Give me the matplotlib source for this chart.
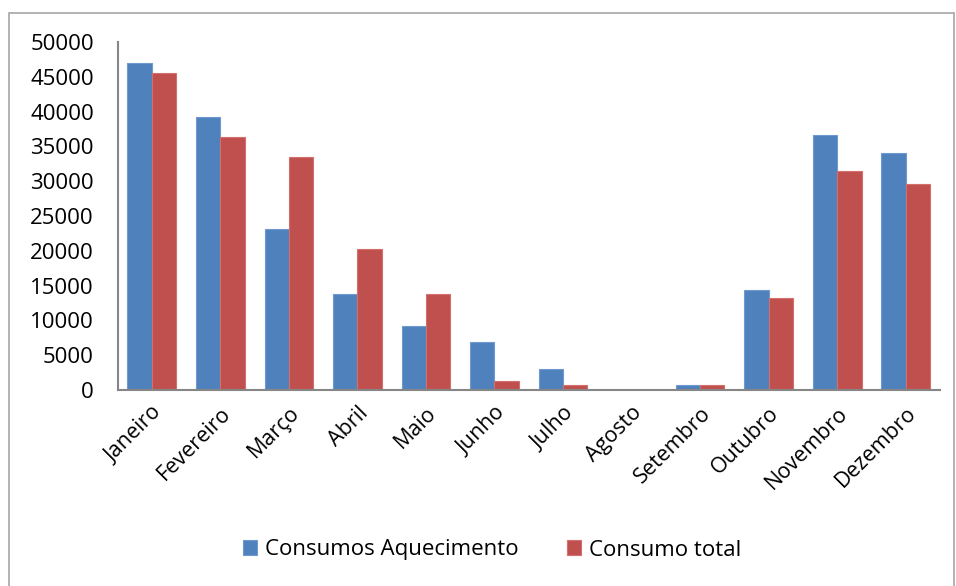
import matplotlib
matplotlib.use("Agg")
import matplotlib.pyplot as plt
import numpy as np
from matplotlib.patches import Rectangle

months = ["Janeiro", "Fevereiro", "Março", "Abril", "Maio", "Junho",
          "Julho", "Agosto", "Setembro", "Outubro", "Novembro", "Dezembro"]
aquecimento = [46950, 39250, 23100, 13750, 9250, 6900,
               3050, 0, 750, 14350, 36600, 34050]
consumo_total = [45500, 36350, 33450, 20200, 13750, 1350,
                 750, 0, 750, 13200, 31400, 29600]
yticks = list(range(0, 50001, 5000))

blue = "#4F81BD"
red = "#C0504D"
axis_grey = "#868686"

plt.rcParams["font.family"] = ["Open Sans", "DejaVu Sans"]

fig = plt.figure(figsize=(9.56, 5.86), dpi=100)
ax = fig.add_axes([117.5 / 956, 1 - 390 / 586, (940 - 117.5) / 956, (390 - 42) / 586])

x = np.arange(len(months))
w = 0.355
ax.bar(x - w / 2, aquecimento, width=w, color=blue, edgecolor="#6F9AD0",
       linewidth=0.8, label="Consumos Aquecimento")
ax.bar(x + w / 2, consumo_total, width=w, color=red, edgecolor="#D36F6C",
       linewidth=0.8, label="Consumo total")

ax.set_xlim(-0.5, len(months) - 0.5)
ax.set_ylim(0, 50000)
ax.set_yticks(yticks)
ax.set_yticklabels([str(v) for v in yticks])
ax.set_xticks(x)
ax.set_xticklabels(months, rotation=45, ha="right", rotation_mode="anchor")

ax.tick_params(axis="y", length=0, pad=17, labelsize=16, colors="#000000")
ax.tick_params(axis="x", length=0, pad=9, labelsize=15.5, colors="#000000")

for side in ["top", "right"]:
    ax.spines[side].set_visible(False)
for side in ["left", "bottom"]:
    ax.spines[side].set_color(axis_grey)
    ax.spines[side].set_linewidth(1.5)

fig.legend(loc="center", bbox_to_anchor=(492 / 956, 1 - 550 / 586), ncol=2,
           frameon=False, fontsize=16, handlelength=0.62, handleheight=0.62,
           handletextpad=0.35, columnspacing=2.2)

# chart frame
fig.patches.append(Rectangle((9 / 956, -0.05), (954 - 9) / 956, 1.05 - 13 / 586,
                             transform=fig.transFigure, fill=False,
                             edgecolor="#A6A6A6", linewidth=1.2))

fig.savefig("out.png", dpi=100)
